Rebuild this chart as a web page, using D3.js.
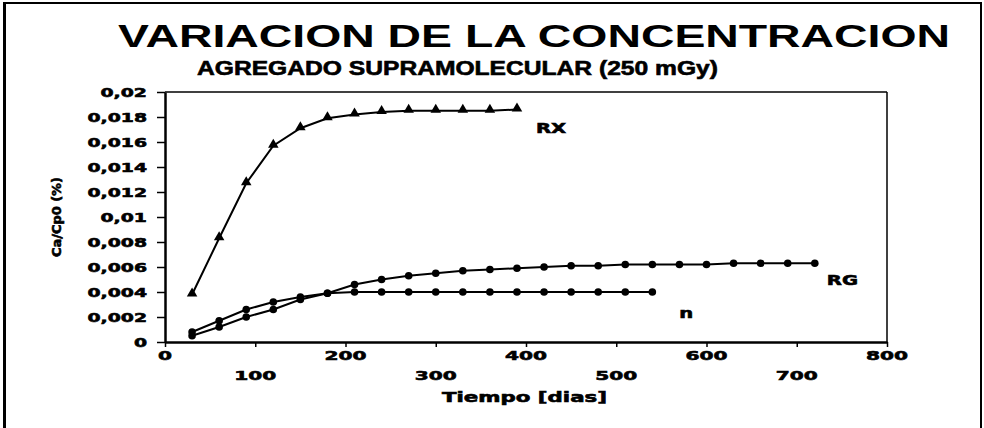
<!DOCTYPE html>
<html>
<head>
<meta charset="UTF-8">
<title>Variacion de la concentracion</title>
<script src="https://d3js.org/d3.v7.min.js"></script>
<style>
  body { margin: 0; background: #fff; }
  .axis path, .axis line { stroke: #000; }
  .lbl { font-family: "DejaVu Sans", sans-serif; font-weight: bold; fill: #000; }
  .heavy { stroke: #000; stroke-width: 0.6; }
</style>
</head>
<body>
<svg class="chart" width="984" height="428"></svg>
<script>
// ---- data ----
var tiempoRX = [30, 60, 90, 120, 150, 180, 210, 240, 270, 300, 330, 360, 390];
var valoresRX = [0.0038, 0.0083, 0.0127, 0.0157, 0.0171, 0.0179, 0.0182, 0.0184, 0.0185, 0.0185, 0.0185, 0.0185, 0.0186];

var tiempoRG = [30, 60, 90, 120, 150, 180, 210, 240, 270, 300, 330, 360, 390, 420, 450, 480, 510, 540, 570, 600, 630, 660, 690, 720];
var valoresRG = [0.0005, 0.0012, 0.0020, 0.0026, 0.0034, 0.0039, 0.0046, 0.0050, 0.0053, 0.0055, 0.0057, 0.0058, 0.0059, 0.0060, 0.0061, 0.0061, 0.0062, 0.0062, 0.0062, 0.0062, 0.0063, 0.0063, 0.0063, 0.0063];

var tiempoN = [30, 60, 90, 120, 150, 180, 210, 240, 270, 300, 330, 360, 390, 420, 450, 480, 510, 540];
var valoresN = [0.0008, 0.0017, 0.0026, 0.0032, 0.0036, 0.0039, 0.0040, 0.0040, 0.0040, 0.0040, 0.0040, 0.0040, 0.0040, 0.0040, 0.0040, 0.0040, 0.0040, 0.0040];

var nombresSeries = ["RX", "RG", "n"];
var xTicks = [0, 100, 200, 300, 400, 500, 600, 700, 800];
var yTicks = [0, 0.002, 0.004, 0.006, 0.008, 0.01, 0.012, 0.014, 0.016, 0.018, 0.02];

var titulo = "VARIACION DE LA CONCENTRACION";
var subtitulo = "AGREGADO SUPRAMOLECULAR (250 mGy)";
var tituloX = "Tiempo [dias]";
var tituloY = "Ca/Cp0 (%)";

// ---- layout ----
var chart = d3.select(".chart");
var x = d3.scaleLinear().domain([0, 800]).range([165, 887]);
var y = d3.scaleLinear().domain([0, 0.02]).range([342, 92]);
var coma = d3.formatLocale({decimal: ",", thousands: ".", grouping: [3], currency: ["", ""]}).format("~g");

// outer frame of the scanned page
chart.append("line").attr("x1", 3).attr("x2", 982).attr("y1", 3).attr("y2", 3)
  .attr("stroke", "#000").attr("stroke-width", 2);
chart.append("line").attr("x1", 4.5).attr("x2", 4.5).attr("y1", 2).attr("y2", 428)
  .attr("stroke", "#000").attr("stroke-width", 3);
chart.append("line").attr("x1", 981).attr("x2", 981).attr("y1", 2).attr("y2", 428)
  .attr("stroke", "#000").attr("stroke-width", 2);

// titles
chart.append("text").attr("class", "lbl")
  .style("font-family", "'Liberation Sans', Arial, sans-serif")
  .attr("x", 118).attr("y", 47)
  .attr("font-size", 31)
  .attr("textLength", 832).attr("lengthAdjust", "spacingAndGlyphs")
  .text(titulo);

chart.append("text").attr("class", "lbl heavy")
  .style("font-family", "'Liberation Sans', Arial, sans-serif")
  .attr("x", 197).attr("y", 75)
  .attr("font-size", 20)
  .attr("textLength", 521).attr("lengthAdjust", "spacingAndGlyphs")
  .text(subtitulo);

// plot box (top + right)
chart.append("line").attr("x1", x(0)).attr("x2", x(800)).attr("y1", y(0.02)).attr("y2", y(0.02))
  .attr("stroke", "#000").attr("stroke-width", 1.5);
chart.append("line").attr("x1", x(800)).attr("x2", x(800)).attr("y1", y(0.02)).attr("y2", y(0))
  .attr("stroke", "#000").attr("stroke-width", 1.5);

// axes
var gy = chart.append("g").attr("class", "axis")
  .attr("transform", "translate(" + x(0) + ",0)")
  .call(d3.axisLeft(y).tickValues(yTicks).tickSize(8).tickSizeOuter(0).tickFormat(""));
gy.select(".domain").attr("stroke-width", 2.5);
gy.selectAll(".tick line").attr("stroke-width", 1.5);

var gx = chart.append("g").attr("class", "axis")
  .attr("transform", "translate(0," + y(0) + ")")
  .call(d3.axisBottom(x).tickValues(xTicks).tickSize(5).tickSizeOuter(0).tickFormat(""));
gx.select(".domain").attr("stroke-width", 2.5);
gx.selectAll(".tick line").attr("stroke-width", 1.5);

// tick labels (wide, stretched face like the original)
chart.append("g").selectAll("text")
  .data(yTicks).enter().append("text")
  .attr("class", "lbl heavy")
  .attr("font-size", 13)
  .attr("text-anchor", "end")
  .attr("dy", "0.36em")
  .attr("transform", function(d) { return "translate(147," + y(d) + ") scale(1.45,1)"; })
  .text(function(d) { return coma(d); });

chart.append("g").selectAll("text")
  .data(xTicks).enter().append("text")
  .attr("class", "lbl heavy")
  .attr("font-size", 13)
  .attr("text-anchor", "middle")
  .attr("dy", "0.36em")
  .attr("transform", function(d, i) {
    return "translate(" + x(d) + "," + (i % 2 === 0 ? 355 : 375) + ") scale(1.55,1)";
  })
  .text(function(d) { return d; });

// axis titles
chart.append("text").attr("class", "lbl heavy")
  .attr("x", 442).attr("y", 402)
  .attr("font-size", 14)
  .attr("textLength", 165).attr("lengthAdjust", "spacingAndGlyphs")
  .text(tituloX);

chart.append("text").attr("class", "lbl heavy")
  .attr("transform", "translate(61,257) rotate(-90)")
  .attr("font-size", 13)
  .attr("textLength", 80).attr("lengthAdjust", "spacingAndGlyphs")
  .text(tituloY);

// ---- series ----
var series = [
  {name: nombresSeries[0], xs: tiempoRX, ys: valoresRX, marker: "tri", dx: 19, dy: 23},
  {name: nombresSeries[1], xs: tiempoRG, ys: valoresRG, marker: "dot", dx: 12, dy: 22},
  {name: nombresSeries[2], xs: tiempoN, ys: valoresN, marker: "dot", dx: 27, dy: 26}
];

var line = d3.line().x(function(d) { return x(d[0]); }).y(function(d) { return y(d[1]); });
var tri = d3.symbol().type(d3.symbolTriangle).size(48);

series.forEach(function(s) {
  var pts = s.xs.map(function(t, i) { return [t, s.ys[i]]; });
  var g = chart.append("g");

  g.append("path").datum(pts)
    .attr("fill", "none").attr("stroke", "#000").attr("stroke-width", 2)
    .attr("d", line);

  if (s.marker === "tri") {
    g.selectAll("path.m").data(pts).enter().append("path")
      .attr("class", "m")
      .attr("d", tri)
      .attr("transform", function(d) { return "translate(" + x(d[0]) + "," + (y(d[1]) - 1) + ")"; })
      .attr("fill", "#000");
  } else {
    g.selectAll("circle").data(pts).enter().append("circle")
      .attr("cx", function(d) { return x(d[0]); })
      .attr("cy", function(d) { return y(d[1]); })
      .attr("r", 3.8)
      .attr("fill", "#000");
  }

  var last = pts[pts.length - 1];
  chart.append("text").attr("class", "lbl heavy")
    .attr("font-size", 14)
    .attr("transform", "translate(" + (x(last[0]) + s.dx) + "," + (y(last[1]) + s.dy) + ") scale(1.4,1)")
    .text(s.name);
});
</script>
</body>
</html>
